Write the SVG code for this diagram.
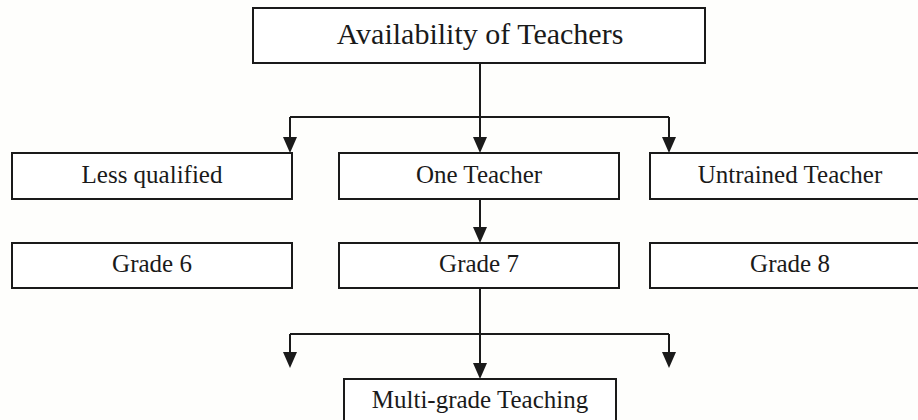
<svg xmlns="http://www.w3.org/2000/svg" width="918" height="420" viewBox="0 0 918 420">
<defs>
<style>
.box{fill:#ffffff;stroke:#1a1a1a;stroke-width:2}
.t{font-family:"Liberation Serif","Times New Roman",serif;fill:#1a1a1a;text-anchor:middle;font-size:25px}
.tt{font-size:30px}
.c{fill:none;stroke:#1a1a1a;stroke-width:2}
.ah{fill:#1a1a1a}
</style>
</defs>
<rect width="918" height="420" fill="#fefefc"/>
<g id="connectors">
<path class="c" d="M480,63 V117"/>
<path class="c" d="M290,117 H669"/>
<path class="c" d="M290,117 V138"/>
<path class="c" d="M480,117 V138"/>
<path class="c" d="M669,117 V138"/>
<path class="c" d="M480,199 V228"/>
<path class="c" d="M480,288 V364"/>
<path class="c" d="M290,334 H669"/>
<path class="c" d="M290,334 V353"/>
<path class="c" d="M669,334 V353"/>
<polygon class="ah" points="283,137 297,137 290,153"/>
<polygon class="ah" points="473,137 487,137 480,153"/>
<polygon class="ah" points="662,137 676,137 669,153"/>
<polygon class="ah" points="473,227 487,227 480,243"/>
<polygon class="ah" points="283,352 297,352 290,368"/>
<polygon class="ah" points="662,352 676,352 669,368"/>
<polygon class="ah" points="473,363 487,363 480,379"/>
</g>
<g id="n-availability"><rect class="box" x="253" y="8" width="452" height="55"/><text class="t tt" x="480" y="44">Availability of Teachers</text></g>
<g id="n-less"><rect class="box" x="12" y="153" width="280" height="46"/><text class="t" x="152" y="183">Less qualified</text></g>
<g id="n-one"><rect class="box" x="339" y="153" width="280" height="46"/><text class="t" x="479" y="183">One Teacher</text></g>
<g id="n-untrained"><rect class="box" x="650" y="153" width="280" height="46"/><text class="t" x="790" y="183">Untrained Teacher</text></g>
<g id="n-grade6"><rect class="box" x="12" y="243" width="280" height="45"/><text class="t" x="152" y="272">Grade 6</text></g>
<g id="n-grade7"><rect class="box" x="339" y="243" width="280" height="45"/><text class="t" x="479" y="272">Grade 7</text></g>
<g id="n-grade8"><rect class="box" x="650" y="243" width="280" height="45"/><text class="t" x="790" y="272">Grade 8</text></g>
<g id="n-multi"><rect class="box" x="344" y="379" width="272" height="50"/><text class="t" x="480" y="408">Multi-grade Teaching</text></g>
</svg>
